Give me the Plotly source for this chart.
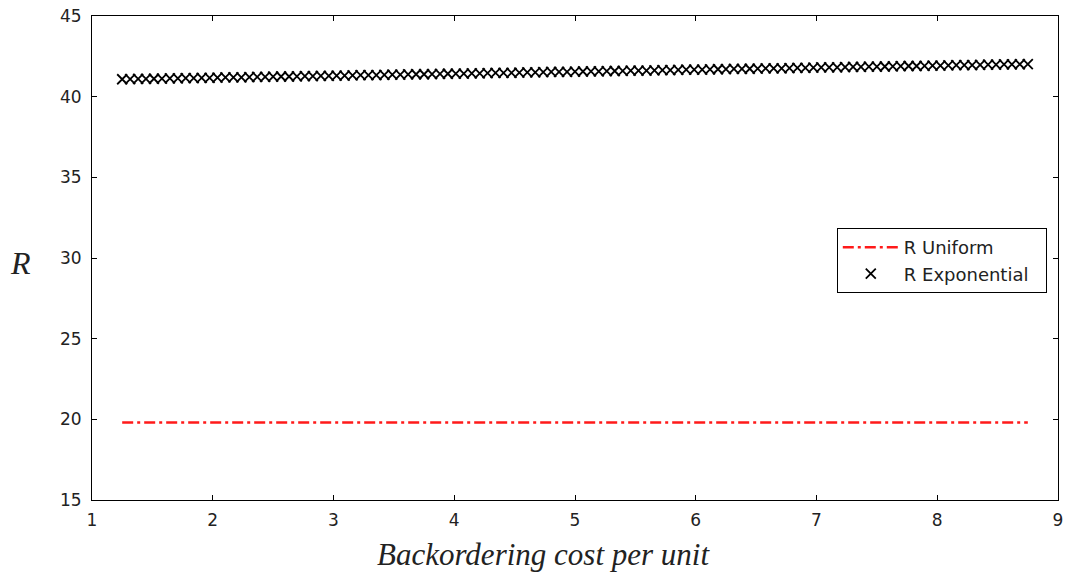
import plotly.graph_objects as go

# Backordering cost per unit (shared sample grid)
cost = [1.250, 1.316, 1.382, 1.447, 1.513, 1.579, 1.645, 1.711, 1.776, 1.842,
        1.908, 1.974, 2.039, 2.105, 2.171, 2.237, 2.303, 2.368, 2.434, 2.500,
        2.566, 2.632, 2.697, 2.763, 2.829, 2.895, 2.961, 3.026, 3.092, 3.158,
        3.224, 3.289, 3.355, 3.421, 3.487, 3.553, 3.618, 3.684, 3.750, 3.816,
        3.882, 3.947, 4.013, 4.079, 4.145, 4.211, 4.276, 4.342, 4.408, 4.474,
        4.539, 4.605, 4.671, 4.737, 4.803, 4.868, 4.934, 5.000, 5.066, 5.132,
        5.197, 5.263, 5.329, 5.395, 5.461, 5.526, 5.592, 5.658, 5.724, 5.789,
        5.855, 5.921, 5.987, 6.053, 6.118, 6.184, 6.250, 6.316, 6.382, 6.447,
        6.513, 6.579, 6.645, 6.711, 6.776, 6.842, 6.908, 6.974, 7.039, 7.105,
        7.171, 7.237, 7.303, 7.368, 7.434, 7.500, 7.566, 7.632, 7.697, 7.763,
        7.829, 7.895, 7.961, 8.026, 8.092, 8.158, 8.224, 8.289, 8.355, 8.421,
        8.487, 8.553, 8.618, 8.684, 8.750]

r_exponential = [41.08, 41.09, 41.10, 41.10, 41.11, 41.12, 41.13, 41.14, 41.15, 41.15,
                 41.16, 41.17, 41.18, 41.19, 41.20, 41.20, 41.21, 41.22, 41.23, 41.24,
                 41.25, 41.25, 41.26, 41.27, 41.28, 41.29, 41.29, 41.30, 41.31, 41.32,
                 41.33, 41.34, 41.34, 41.35, 41.36, 41.37, 41.38, 41.39, 41.39, 41.40,
                 41.41, 41.42, 41.43, 41.43, 41.44, 41.45, 41.46, 41.47, 41.48, 41.48,
                 41.49, 41.50, 41.51, 41.52, 41.53, 41.53, 41.54, 41.55, 41.56, 41.57,
                 41.57, 41.58, 41.59, 41.60, 41.61, 41.62, 41.62, 41.63, 41.64, 41.65,
                 41.66, 41.67, 41.67, 41.68, 41.69, 41.70, 41.71, 41.72, 41.72, 41.73,
                 41.74, 41.75, 41.76, 41.76, 41.77, 41.78, 41.79, 41.80, 41.81, 41.81,
                 41.82, 41.83, 41.84, 41.85, 41.86, 41.86, 41.87, 41.88, 41.89, 41.90,
                 41.90, 41.91, 41.92, 41.93, 41.94, 41.95, 41.95, 41.96, 41.97, 41.98,
                 41.99, 42.00, 42.00, 42.01, 42.02]

r_uniform = [19.8] * len(cost)

x_ticks = [1, 2, 3, 4, 5, 6, 7, 8, 9]
y_ticks = [15, 20, 25, 30, 35, 40, 45]

SANS = "DejaVu Sans, Arial"
SERIF = "Liberation Serif, Times New Roman"

fig = go.Figure()
fig.add_trace(go.Scatter(
    x=cost, y=r_uniform, mode="lines", name="R Uniform",
    line=dict(color="#ff1a1a", width=2.5, dash="11px,4px,3px,4px"),
))
fig.add_trace(go.Scatter(
    x=cost, y=r_exponential, mode="markers", name="R Exponential\u00a0\u00a0",
    marker=dict(symbol="x-thin-open", size=10, color="black",
                line=dict(color="#1a1a1a", width=1.8)),
))

axis_common = dict(
    showline=True, linecolor="black", linewidth=1, mirror="ticks",
    ticks="inside", ticklen=5, tickcolor="black", showgrid=False, zeroline=False,
    tickfont=dict(family=SANS, size=17, color="#222"),
)
fig.update_xaxes(range=[1, 9], tickvals=x_ticks, ticklabelstandoff=5, **axis_common)
fig.update_yaxes(range=[15, 45], tickvals=y_ticks, ticklabelstandoff=6, **axis_common)

fig.update_layout(
    width=1069, height=574,
    margin=dict(l=92, r=6, t=16, b=74),
    plot_bgcolor="white", paper_bgcolor="white",
    showlegend=True,
    legend=dict(
        x=0.771, y=0.562, xanchor="left", yanchor="top",
        bordercolor="black", borderwidth=1, bgcolor="white",
        font=dict(family=SANS, size=18, color="#222"),
        itemwidth=56, tracegroupgap=0,
    ),
    annotations=[
        dict(text="<i>Backordering cost per unit</i>", xref="paper", yref="paper",
             x=0.467, y=0, yshift=-54, xanchor="center", yanchor="middle",
             showarrow=False,
             font=dict(family=SERIF, size=31, color="#222")),
        dict(text="<i>R</i>", xref="paper", yref="paper",
             x=0, xshift=-72, y=0.49, xanchor="center", yanchor="middle",
             showarrow=False,
             font=dict(family=SERIF, size=32, color="#222")),
    ],
)

fig.write_html("out.html", config={"displayModeBar": False},
               post_script="document.body.style.margin='0';document.body.style.padding='0';")
